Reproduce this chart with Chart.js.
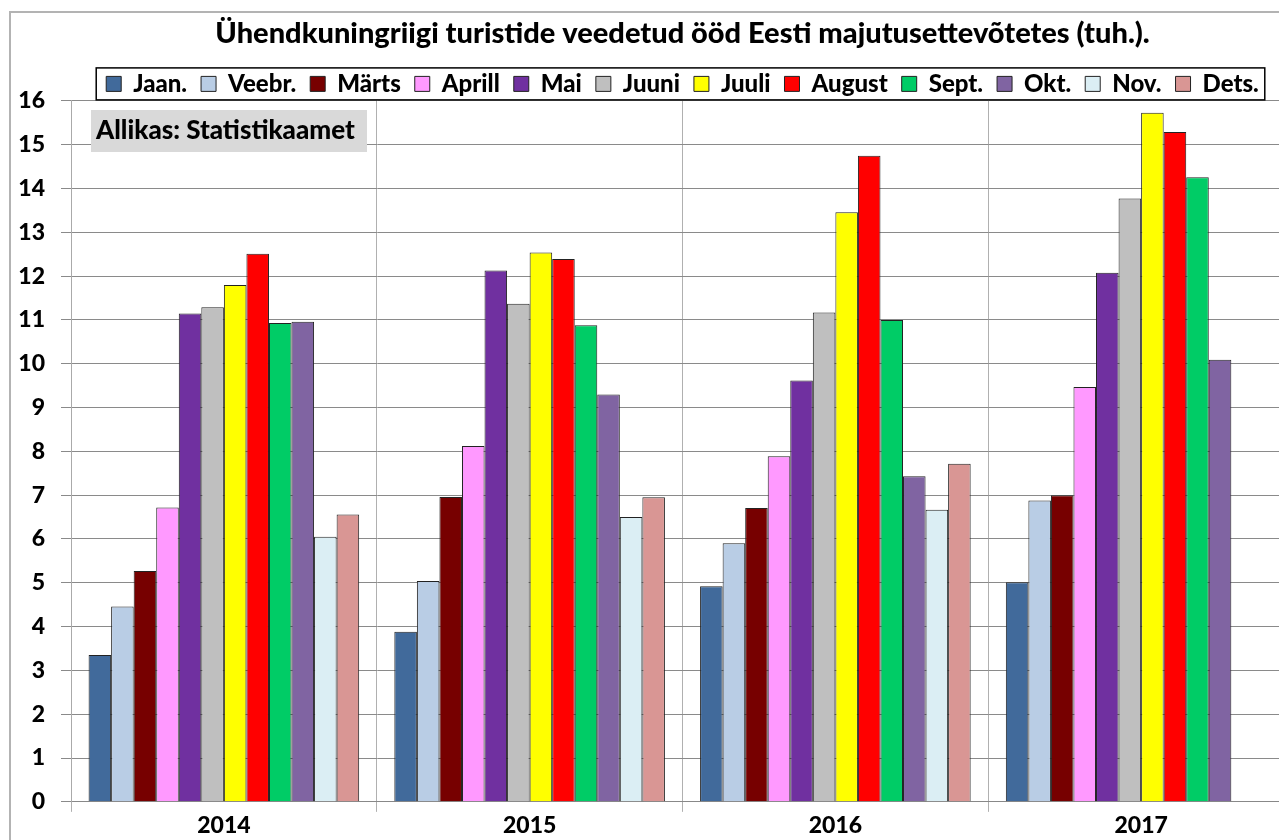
<!DOCTYPE html>
<html>
<head>
<meta charset="utf-8">
<script src="https://cdn.jsdelivr.net/npm/chart.js@4"></script>
<style>
  html, body { margin: 0; padding: 0; background: #fff; overflow: hidden; }
  #wrap { width: 1279px; height: 840px; overflow: hidden; position: relative; }
</style>
</head>
<body>
<div id="wrap"><canvas id="c" width="1330" height="840"></canvas></div>
<script>
const years = ['2014', '2015', '2016', '2017'];
const months = ['Jaan.', 'Veebr.', 'Märts', 'Aprill', 'Mai', 'Juuni', 'Juuli', 'August', 'Sept.', 'Okt.', 'Nov.', 'Dets.'];
const yTicks = [0, 1, 2, 3, 4, 5, 6, 7, 8, 9, 10, 11, 12, 13, 14, 15, 16];

// tuh. ööd, per month, years 2014..2017
const jaan   = [3.35, 3.88, 4.92, 5.01];
const veebr  = [4.46, 5.04, 5.90, 6.88];
const marts  = [5.27, 6.96, 6.71, 7.00];
const aprill = [6.72, 8.12, 7.89, 9.47];
const mai    = [11.15, 12.13, 9.62, 12.08];
const juuni  = [11.29, 11.37, 11.17, 13.77];
const juuli  = [11.80, 12.54, 13.46, 15.73];
const august = [12.51, 12.39, 14.75, 15.29];
const sept   = [10.93, 10.88, 11.00, 14.26];
const okt    = [10.96, 9.30, 7.43, 10.09];
const nov    = [6.05, 6.50, 6.67, null];
const dets   = [6.56, 6.95, 7.72, null];

const series = [jaan, veebr, marts, aprill, mai, juuni, juuli, august, sept, okt, nov, dets];
const colors = ['#416a9b', '#b9cde5', '#770000', '#ff99ff', '#7030a0', '#bfbfbf',
                '#ffff00', '#ff0000', '#00cc66', '#8064a2', '#dbeef4', '#d99694'];

const FONT = 'Lato, "Open Sans", sans-serif';
const W = '900';

const frame = {
  id: 'frame',
  afterInit(chart) {
    // pull the legend down against the plot area
    const lg = chart.legend;
    if (lg) {
      const fit = lg.fit.bind(lg);
      lg.fit = function () { fit(); this.height -= 5; };
    }
  },
  beforeDraw(chart) {
    const { ctx } = chart;
    ctx.save();
    ctx.fillStyle = '#fff';
    ctx.fillRect(0, 0, chart.width, chart.height);
    ctx.strokeStyle = '#b3b3b3';
    ctx.lineWidth = 2;
    ctx.strokeRect(10, 12, chart.width + 20, chart.height + 20);
    ctx.restore();
  },
  afterDraw(chart) {
    const { ctx } = chart;
    // legend border
    const boxes = chart.legend.legendHitBoxes;
    if (boxes && boxes.length) {
      const l = Math.min(...boxes.map(b => b.left));
      const r = Math.max(...boxes.map(b => b.left + b.width));
      const t = Math.min(...boxes.map(b => b.top));
      const b = Math.max(...boxes.map(b => b.top + b.height));
      ctx.save();
      ctx.strokeStyle = '#000';
      ctx.lineWidth = 1.5;
      ctx.strokeRect(l - 10, t - 4, r - l + 16, b - t + 8);
      ctx.restore();
    }
    // source note
    ctx.save();
    ctx.fillStyle = '#d9d9d9';
    ctx.fillRect(91, 110, 276, 42);
    ctx.fillStyle = '#000';
    ctx.font = W + ' 26px ' + FONT;
    ctx.textBaseline = 'middle';
    ctx.fillText('Allikas: Statistikaamet', 96, 131);
    ctx.restore();
  }
};

new Chart(document.getElementById('c'), {
  type: 'bar',
  data: {
    labels: years,
    datasets: months.map((m, i) => ({
      label: m,
      data: series[i],
      backgroundColor: colors[i],
      borderColor: '#222',
      borderWidth: 1,
      barPercentage: 1,
      categoryPercentage: 0.885
    }))
  },
  options: {
    responsive: false,
    animation: false,
    layout: { padding: { top: 0, left: 0, right: 36, bottom: 0 } },
    plugins: {
      title: {
        display: true,
        fullSize: false,
        text: 'Ühendkuningriigi turistide veedetud ööd Eesti majutusettevõtetes (tuh.).',
        color: '#000',
        font: { family: FONT, size: 29, weight: W, lineHeight: 1.1 },
        padding: { top: 18, bottom: 8 }
      },
      legend: {
        display: true,
        fullSize: false,
        labels: {
          color: '#000',
          font: { family: FONT, size: 24, weight: W },
          boxWidth: 15,
          boxHeight: 15,
          padding: 14
        }
      },
      tooltip: { enabled: false }
    },
    scales: {
      x: {
        grid: { color: '#b0b0b0', tickLength: 10, offset: true },
        border: { color: '#888' },
        ticks: { color: '#000', font: { family: FONT, size: 23, weight: W, lineHeight: 1.05 }, padding: 2 }
      },
      y: {
        min: 0,
        max: 16,
        afterFit(scale) { scale.width = 71; },
        afterBuildTicks(scale) { scale.ticks = yTicks.map(v => ({ value: v })); },
        grid: { color: '#8a8a8a', tickLength: 10 },
        border: { color: '#aaa' },
        ticks: { color: '#000', font: { family: FONT, size: 23, weight: W }, padding: 16 }
      }
    }
  },
  plugins: [frame]
});
</script>
</body>
</html>
